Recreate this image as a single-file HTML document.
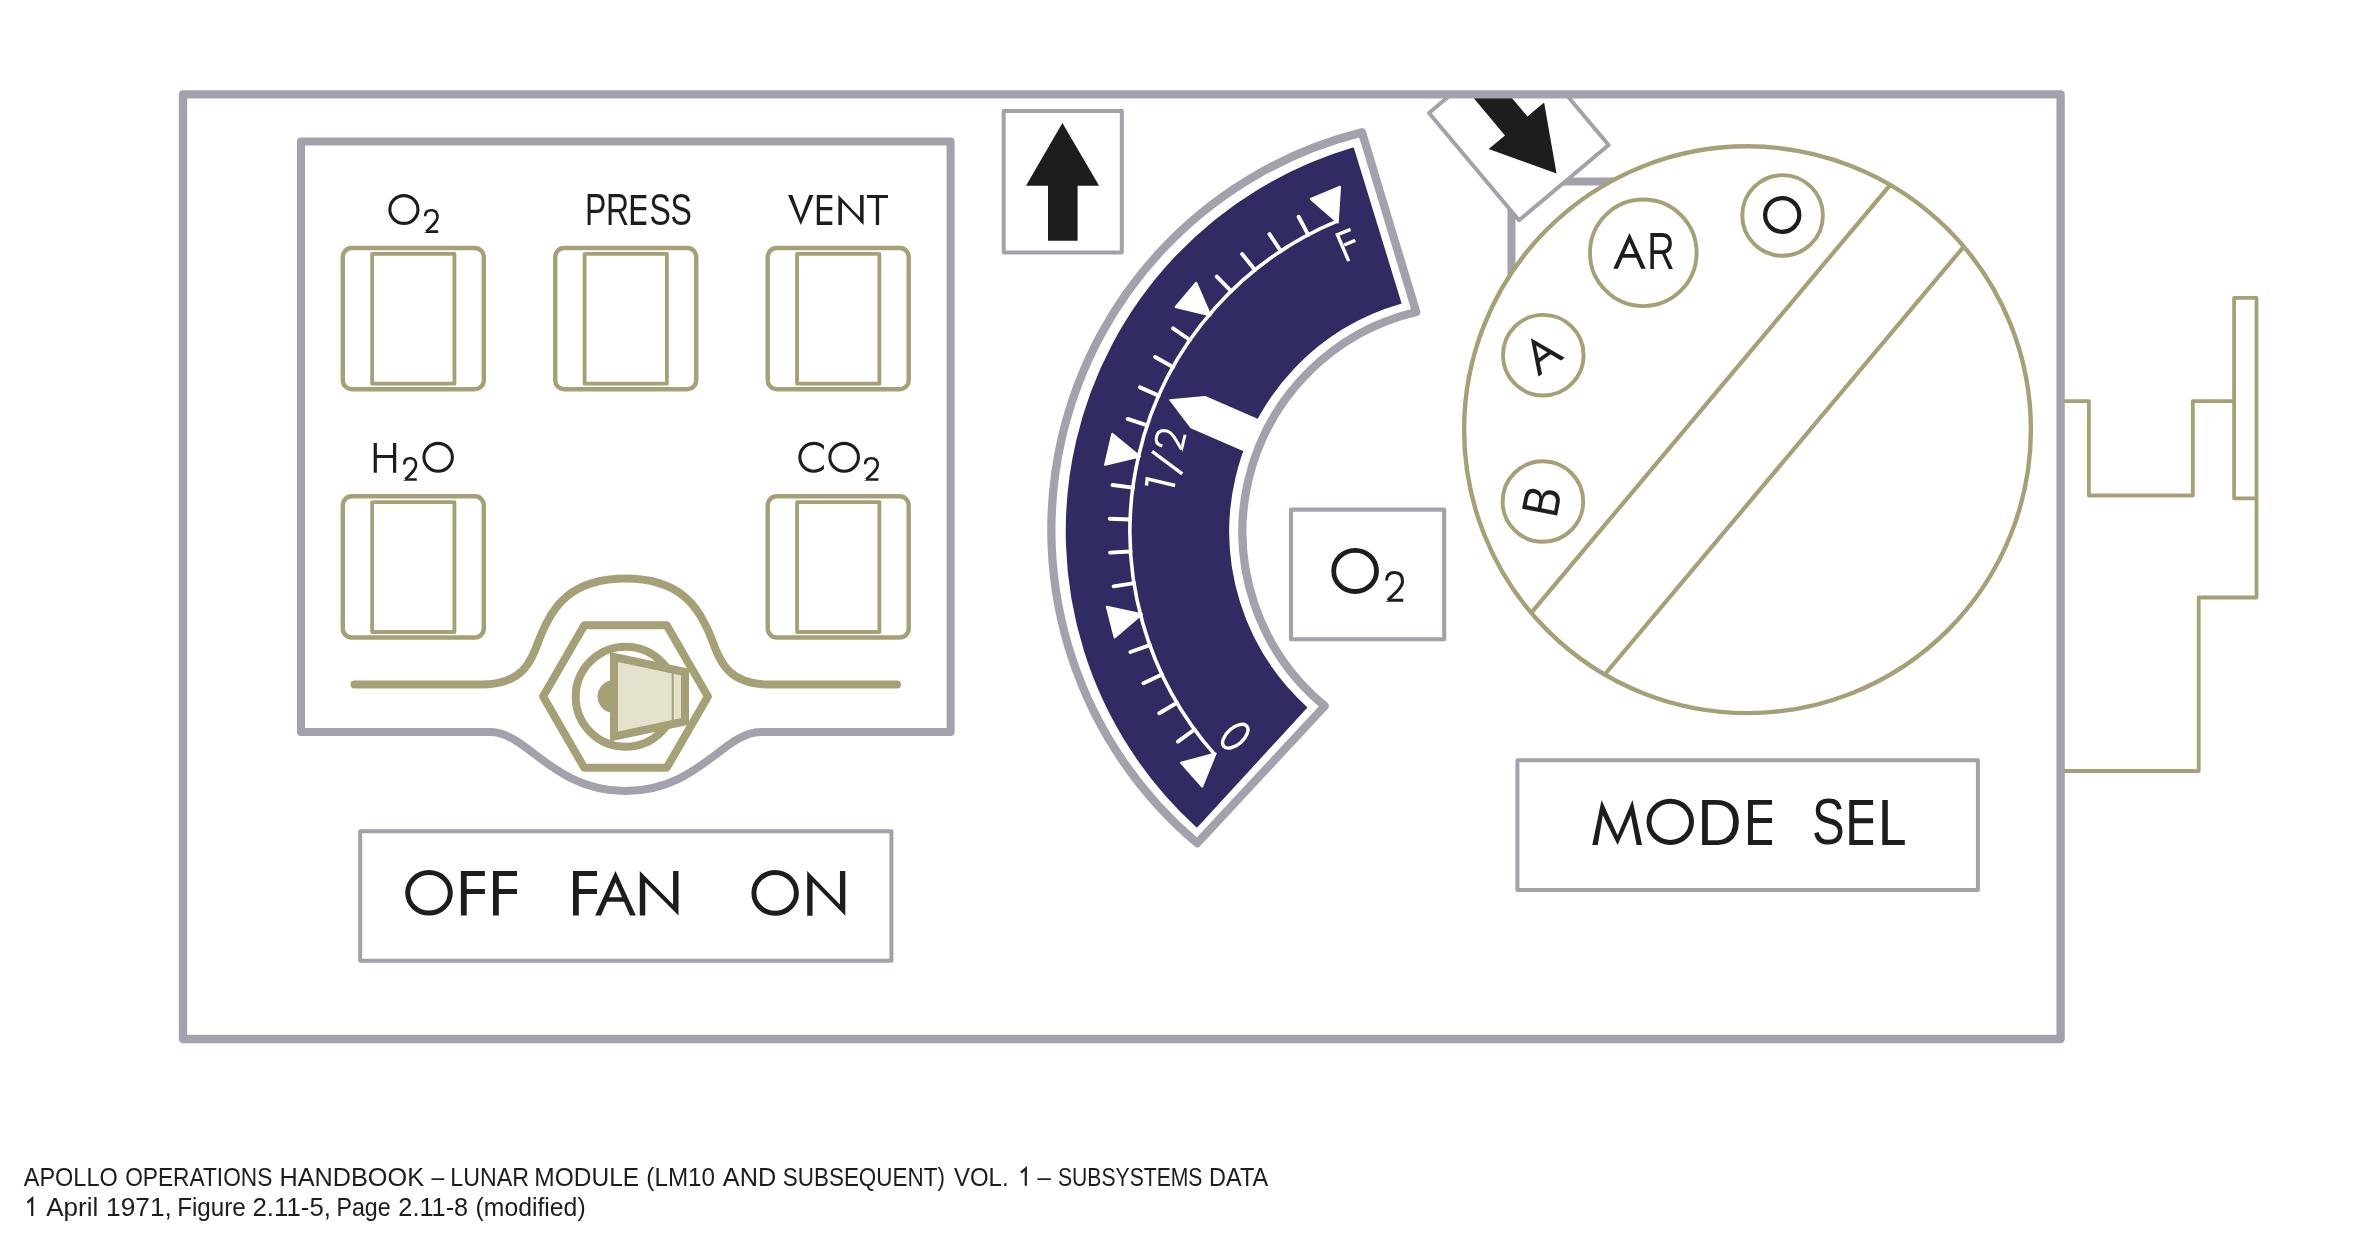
<!DOCTYPE html>
<html><head><meta charset="utf-8"><title>LM ECS panel</title>
<style>html,body{margin:0;padding:0;background:#fff;}svg{display:block;font-family:"Liberation Sans",sans-serif;will-change:transform;}</style>
</head><body>
<svg xmlns="http://www.w3.org/2000/svg" width="2362" height="1241" viewBox="0 0 2362 1241">
<rect width="2362" height="1241" fill="#fff"/>
<g fill="none" stroke="#a6a077" stroke-width="3.8" stroke-linejoin="round"><path d="M2062 401.2H2088.9V495.5H2192.8V401.2H2234.1"/><rect x="2234.1" y="297.9" width="22.4" height="200.4"/><path d="M2256.5 498.3V597.5H2198.7V771H2062"/></g>
<path d="M1511.5 320V181.5H1660" fill="none" stroke="#a3a1ab" stroke-width="8"/>
<defs><clipPath id="topclip"><rect x="1380" y="94" width="320" height="260"/></clipPath></defs>
<g clip-path="url(#topclip)"><g transform="translate(1518.8 129) rotate(140) scale(0.99) translate(-1062.75 -181.75)"><rect x="1003.7" y="111" width="118.1" height="141.5" fill="#fff" stroke="#a3a1ab" stroke-width="4" stroke-linejoin="round"/><path d="M1062.4 122.9L1099.1 185.8H1077.6V240.8H1048V185.8H1026Z" fill="#1d1d1b"/></g></g>
<rect x="183" y="94.3" width="1877.6" height="944.7" fill="none" stroke="#a3a1ab" stroke-width="8.3" stroke-linejoin="round"/>
<path d="M301 141.6H950.6V732H760.7C724 732 698.1 791 625.5 791C552.9 791 527 732 490.3 732H301Z" fill="none" stroke="#a3a1ab" stroke-width="8" stroke-linejoin="round"/>
<rect x="342.8" y="248" width="141" height="141.2" rx="9" fill="none" stroke="#a6a077" stroke-width="4.4"/>
<rect x="372.15" y="253.8" width="82.3" height="129.9" fill="none" stroke="#a6a077" stroke-width="3.8" stroke-linejoin="round"/>
<rect x="342.8" y="496.3" width="141" height="141.2" rx="9" fill="none" stroke="#a6a077" stroke-width="4.4"/>
<rect x="372.15" y="502.1" width="82.3" height="129.9" fill="none" stroke="#a6a077" stroke-width="3.8" stroke-linejoin="round"/>
<rect x="555.25" y="248" width="141" height="141.2" rx="9" fill="none" stroke="#a6a077" stroke-width="4.4"/>
<rect x="584.6" y="253.8" width="82.3" height="129.9" fill="none" stroke="#a6a077" stroke-width="3.8" stroke-linejoin="round"/>
<rect x="767.7" y="248" width="141" height="141.2" rx="9" fill="none" stroke="#a6a077" stroke-width="4.4"/>
<rect x="797.05" y="253.8" width="82.3" height="129.9" fill="none" stroke="#a6a077" stroke-width="3.8" stroke-linejoin="round"/>
<rect x="767.7" y="496.3" width="141" height="141.2" rx="9" fill="none" stroke="#a6a077" stroke-width="4.4"/>
<rect x="797.05" y="502.1" width="82.3" height="129.9" fill="none" stroke="#a6a077" stroke-width="3.8" stroke-linejoin="round"/>
<ellipse cx="403.9" cy="209.5" rx="14.05" ry="13.85" fill="none" stroke="#1d1d1b" stroke-width="3.1"/><path d="M425.1 216.34C425.1 211.78 427.7 210.2 431.3 210.2C435.2 210.2 437.5 212.02 437.5 217.06C437.5 221.38 432.8 225.22 426.14 231.6" fill="none" stroke="#1d1d1b" stroke-width="2.6"/><path d="M423.8 232.9L430.04 230.3H438.2V232.9Z" fill="#1d1d1b"/>
<text transform="matrix(0.32 0 0 0.44 584.97 224.9)" font-size="100" fill="#1d1d1b">P</text><text transform="matrix(0.32 0 0 0.44 606.08 224.9)" font-size="100" fill="#1d1d1b">R</text><path d="M630.8 194.9L634 194.9L634 224.9L630.8 224.9ZM630.8 194.9L646.3 194.9L646.3 198.2L630.8 198.2ZM630.8 207.02L646.3 207.02L646.3 210.32L630.8 210.32ZM630.8 221.6L646.3 221.6L646.3 224.9L630.8 224.9Z" fill="#1d1d1b"/><text transform="matrix(0.32 0 0 0.44 649.47 224.66)" font-size="100" fill="#1d1d1b">S</text><text transform="matrix(0.32 0 0 0.44 670.58 224.66)" font-size="100" fill="#1d1d1b">S</text>
<path d="M788.1 194.9L792.39 194.9L800.8 218L809.21 194.9L813.5 194.9L800.8 224.9Z" fill="#1d1d1b"/><path d="M816.8 194.9L820 194.9L820 224.9L816.8 224.9ZM816.8 194.9L832.3 194.9L832.3 198.2L816.8 198.2ZM816.8 207.02L832.3 207.02L832.3 210.32L816.8 210.32ZM816.8 221.6L832.3 221.6L832.3 224.9L816.8 224.9Z" fill="#1d1d1b"/><path d="M838.4 224.9L838.4 194.9L860.06 217.4L860.06 194.9L863.6 194.9L863.6 224.9L841.94 202.4L841.94 224.9Z" fill="#1d1d1b"/><path d="M866.9 194.9L888 194.9L888 197.9L866.9 197.9ZM875.8 194.9L879.1 194.9L879.1 224.9L875.8 224.9Z" fill="#1d1d1b"/>
<path d="M373.7 443L376.89 443L376.89 472.8L373.7 472.8ZM393.01 443L396.2 443L396.2 472.8L393.01 472.8ZM373.7 455.07L396.2 455.07L396.2 457.96L373.7 457.96Z" fill="#1d1d1b"/><path d="M404.2 464.38C404.2 459.86 406.64 458.3 410.1 458.3C413.84 458.3 416 460.09 416 465.09C416 469.38 411.54 473.18 405.24 479.5" fill="none" stroke="#1d1d1b" stroke-width="2.6"/><path d="M402.9 480.8L409.14 478.2H416.72V480.8Z" fill="#1d1d1b"/><ellipse cx="438.15" cy="457.3" rx="14.2" ry="13.95" fill="none" stroke="#1d1d1b" stroke-width="3.1"/>
<path d="M823.9 445.54A15.5 15.5 0 1 0 823.9 469.06L823.9 464.49A12.4 12.4 0 1 1 823.9 450.11Z" fill="#1d1d1b"/><ellipse cx="844.15" cy="457.3" rx="14.3" ry="13.95" fill="none" stroke="#1d1d1b" stroke-width="3.1"/><path d="M865.1 464.31C865.1 459.77 867.75 458.2 871.4 458.2C875.35 458.2 877.7 460.01 877.7 465.03C877.7 469.33 872.92 473.15 866.14 479.5" fill="none" stroke="#1d1d1b" stroke-width="2.6"/><path d="M863.8 480.8L870.04 478.2H878.39V480.8Z" fill="#1d1d1b"/>
<path d="M354.5 684.6H480.5C533 684.6 532.3 650 545.3 625.5C550.9 614.9 565.1 578.6 625.5 578.6C685.9 578.6 700.1 614.9 705.7 625.5C718.7 650 718 684.6 770.5 684.6H897" fill="none" stroke="#a6a077" stroke-width="8" stroke-linecap="round"/>
<path d="M707.9 696.5L666.7 767.86L584.3 767.86L543.1 696.5L584.3 625.14L666.7 625.14Z" fill="none" stroke="#a6a077" stroke-width="8" stroke-linejoin="round"/>
<circle cx="625.7" cy="696.7" r="50" fill="none" stroke="#a6a077" stroke-width="8"/>
<path d="M614 680A16.5 16.5 0 0 0 614 713Z" fill="#a6a077"/>
<path d="M614 657L685 672V721.5L614 736.5Z" fill="#e4e1cc" stroke="#a6a077" stroke-width="8" stroke-linejoin="miter"/>
<path d="M672.7 670V724" stroke="#a6a077" stroke-width="2"/>
<rect x="360.2" y="831.3" width="531.2" height="129.5" fill="none" stroke="#a3a1ab" stroke-width="4" stroke-linejoin="round"/>
<ellipse cx="429" cy="892.8" rx="21.3" ry="20.3" fill="none" stroke="#1d1d1b" stroke-width="5"/><path d="M460.9 871L466.7 871L466.7 915.6L460.9 915.6ZM460.9 871L484.9 871L484.9 876L460.9 876ZM460.9 889.02L484.9 889.02L484.9 894.01L460.9 894.01Z" fill="#1d1d1b"/><path d="M493 871L498.8 871L498.8 915.6L493 915.6ZM493 871L517 871L517 876L493 876ZM493 889.02L517 889.02L517 894.01L493 894.01Z" fill="#1d1d1b"/>
<path d="M573 871L578.8 871L578.8 915.6L573 915.6ZM573 871L597 871L597 876L573 876ZM573 889.02L597 889.02L597 894.01L573 894.01Z" fill="#1d1d1b"/><path d="M615.5 871L635.8 915.6L630 915.6L615.5 882.15L601 915.6L595.2 915.6ZM603.52 897.31L627.48 897.31L629.51 901.77L601.49 901.77Z" fill="#1d1d1b"/><path d="M639.8 915.6L639.8 871L673.06 904.45L673.06 871L678.5 871L678.5 915.6L645.24 882.15L645.24 915.6Z" fill="#1d1d1b"/>
<ellipse cx="775.15" cy="892.9" rx="21.25" ry="20.4" fill="none" stroke="#1d1d1b" stroke-width="5"/><path d="M807.2 915.8L807.2 871L839.95 904.6L839.95 871L845.3 871L845.3 915.8L812.55 882.2L812.55 915.8Z" fill="#1d1d1b"/>
<rect x="1003.7" y="111" width="118.1" height="141.5" fill="none" stroke="#a3a1ab" stroke-width="4" stroke-linejoin="round"/>
<path d="M1062.4 122.9L1099.1 185.8H1077.6V240.8H1048V185.8H1026Z" fill="#1d1d1b"/>
<path d="M1353.2 148.25A399.5 399.5 0 0 0 1196.87 826.75L1306.47 707.44A237.5 237.5 0 0 1 1400.74 303.14Z" fill="#312b63" stroke="#312b63" stroke-width="1.5" stroke-linejoin="round"/>
<path d="M1337.15 221.19A336.0 336.0 0 0 0 1214.55 754.36" fill="none" stroke="#fff" stroke-width="3.6"/>
<path d="M1308.26 234.83L1298.63 216.73M1280.79 251.15L1269.49 234.05M1255 270.01L1242.13 254.06M1231.12 291.23L1216.79 276.57M1189.93 339.98L1173.08 328.3M1172.98 367.07L1155.11 357.04M1158.69 395.64L1139.94 387.35M1147.18 425.44L1127.73 418.97M1132.87 487.64L1112.55 484.97M1130.22 519.48L1109.73 518.75M1130.59 551.43L1110.13 552.64M1134 583.19L1113.74 586.35M1149.76 645.04L1130.47 651.97M1161.98 674.56L1143.43 683.29M1176.94 702.79L1159.3 713.24M1194.52 729.47L1177.95 741.55" stroke="#fff" stroke-width="3.9" stroke-linecap="round"/>
<path d="M1337.72 222.57L1340.06 186.79L1310.72 198.97ZM1210.51 315.59L1196.2 282.71L1175.7 306.97ZM1140.01 456.54L1112.23 433.86L1105.11 464.81ZM1141.86 614.12L1106.78 606.68L1114.63 637.45ZM1215.67 753.36L1181.07 762.81L1202.14 786.58Z" fill="#fff" stroke="#fff" stroke-width="2" stroke-linejoin="round"/>
<path d="M1169.9 399.9L1205.1 396.7L1261.8 421.5L1247.9 452.3L1191 427.5Z" fill="#fff" stroke="#fff" stroke-width="1.5" stroke-linejoin="round"/>
<path d="M1350.6 229.4L1337.4 234.6L1348.7 261.1M1344.2 245L1355.3 240.4M1146.5 485.5L1147.2 478.9L1175.1 485.5M1152.1 451.3L1182.3 473.9" fill="none" stroke="#fff" stroke-width="3.4" stroke-linejoin="miter" stroke-miterlimit="10"/>
<g transform="translate(1169.8 439.8) rotate(-76.2)"><path d="M-7.8 -5.78C-7.8 -11.55 -4.46 -13.7 0 -13.7C4.84 -13.7 7.8 -11.25 7.8 -4.86C7.8 0.61 1.86 5.47 -6.6 13.7" fill="none" stroke="#fff" stroke-width="3"/><path d="M-9.3 15.2L-2.1 12.2H8.56V15.2Z" fill="#fff"/></g>
<ellipse cx="1235.3" cy="736.2" rx="15.3" ry="8.3" transform="rotate(-41.6 1235.3 736.2)" fill="none" stroke="#fff" stroke-width="3.4"/>
<path d="M1362 132.4A409.5 409.5 0 0 0 1197.2 843.1L1324.8 706A225.7 225.7 0 0 1 1416.2 312Z" fill="none" stroke="#a3a1ab" stroke-width="8.3" stroke-linejoin="round"/>
<rect x="1291" y="509.6" width="153.2" height="129.7" fill="none" stroke="#a3a1ab" stroke-width="4.1" stroke-linejoin="round"/>
<ellipse cx="1355.1" cy="570.9" rx="21.4" ry="20.6" fill="none" stroke="#1d1d1b" stroke-width="4.8"/><path d="M1386.6 580.53C1386.6 574.69 1390.01 572.5 1394.55 572.5C1399.46 572.5 1402.5 575 1402.5 581.46C1402.5 586.99 1396.44 591.91 1387.8 600.25" fill="none" stroke="#1d1d1b" stroke-width="3"/><path d="M1385.1 601.75L1392.3 598.75H1403.24V601.75Z" fill="#1d1d1b"/>
<circle cx="1747.5" cy="429.7" r="283.4" fill="#fff" stroke="#a6a077" stroke-width="4.4"/>
<path d="M1531.2 612.81L1890.26 184.89M1604.74 674.51L1963.8 246.59" stroke="#a6a077" stroke-width="4.2"/>
<circle cx="1782.6" cy="215.45" r="40.3" fill="none" stroke="#a6a077" stroke-width="3.9"/>
<circle cx="1643.3" cy="252.8" r="53.3" fill="none" stroke="#a6a077" stroke-width="3.9"/>
<circle cx="1543.3" cy="355.2" r="40.3" fill="none" stroke="#a6a077" stroke-width="3.9"/>
<circle cx="1542.9" cy="501.5" r="40.3" fill="none" stroke="#a6a077" stroke-width="3.9"/>
<path d="M1629.5 233.1L1645.7 268.7L1641.07 268.7L1629.5 242L1617.93 268.7L1613.3 268.7ZM1619.94 254.1L1639.06 254.1L1640.68 257.66L1618.32 257.66Z" fill="#1d1d1b"/><text transform="matrix(0.38 0 0 0.52 1647.35 268.7)" font-size="100" fill="#1d1d1b">R</text>
<ellipse cx="1782.2" cy="215" rx="17.08" ry="16.78" fill="none" stroke="#1d1d1b" stroke-width="4.25"/>
<g transform="translate(1541.2 352.7) rotate(-35.5)"><path d="M0 -17.8L16.2 17.8L11.57 17.8L0 -8.9L-11.57 17.8L-16.2 17.8ZM-9.56 3.2L9.56 3.2L11.18 6.76L-11.18 6.76Z" fill="#1d1d1b"/></g>
<g transform="translate(1541.9 500.5) rotate(-79)"><text transform="matrix(0.44 0 0 0.52 -15.39 17.75)" font-size="100" fill="#1d1d1b">B</text></g>
<rect x="1517.4" y="760.3" width="460.5" height="129.8" fill="none" stroke="#a3a1ab" stroke-width="4" stroke-linejoin="round"/>
<path d="M1592.3 844.9L1601.55 799.9L1617.63 835.45L1632.52 799.9L1642 844.9L1636.64 844.9L1630.87 815.29L1617.63 844.9L1602.79 815.29L1597.8 844.9Z" fill="#1d1d1b"/><ellipse cx="1670.25" cy="821.8" rx="21.25" ry="20.6" fill="none" stroke="#1d1d1b" stroke-width="5"/><text transform="matrix(0.62 0 0 0.65 1697.08 844.9)" font-size="100" fill="#1d1d1b">D</text><path d="M1748 799.9L1752.95 799.9L1752.95 844.9L1748 844.9ZM1748 799.9L1772 799.9L1772 804.85L1748 804.85ZM1748 818.08L1772 818.08L1772 823.03L1748 823.03ZM1748 839.95L1772 839.95L1772 844.9L1748 844.9Z" fill="#1d1d1b"/>
<text transform="matrix(0.49 0 0 0.65 1811.99 844.35)" font-size="100" fill="#1d1d1b">S</text><path d="M1849.3 800L1854.21 800L1854.21 845L1849.3 845ZM1849.3 800L1873.1 800L1873.1 804.95L1849.3 804.95ZM1849.3 818.18L1873.1 818.18L1873.1 823.13L1849.3 823.13ZM1849.3 840.05L1873.1 840.05L1873.1 845L1849.3 845Z" fill="#1d1d1b"/><path d="M1882.3 800L1887.79 800L1887.79 845L1882.3 845ZM1882.3 840.05L1904.8 840.05L1904.8 845L1882.3 845Z" fill="#1d1d1b"/>
<g fill="#1d1d1b"><text transform="matrix(0.91 0 0 1 23.78 1185.8)" font-size="25.8">APOLLO</text><text transform="matrix(0.88 0 0 1 125.17 1185.8)" font-size="25.8">OPERATIONS</text><text transform="matrix(0.98 0 0 1 279.38 1185.8)" font-size="25.8">HANDBOOK</text><text transform="matrix(0.89 0 0 1 431.4 1185.8)" font-size="25.8">–</text><text transform="matrix(0.9 0 0 1 450.33 1185.8)" font-size="25.8">LUNAR</text><text transform="matrix(0.95 0 0 1 534.34 1185.8)" font-size="25.8">MODULE</text><text transform="matrix(0.94 0 0 1 646.35 1185.8)" font-size="25.8">(LM10</text><text transform="matrix(0.98 0 0 1 722.87 1185.8)" font-size="25.8">AND</text><text transform="matrix(0.87 0 0 1 782.79 1185.8)" font-size="25.8">SUBSEQUENT)</text><text transform="matrix(0.93 0 0 1 953.88 1185.8)" font-size="25.8">VOL.</text><path d="M1025.8 1185.8V1168.4L1021 1172.6" fill="none" stroke="#1d1d1b" stroke-width="2.2"/><text transform="matrix(0.93 0 0 1 1037.6 1185.8)" font-size="25.8">–</text><text transform="matrix(0.82 0 0 1 1057.95 1185.8)" font-size="25.8">SUBSYSTEMS</text><text transform="matrix(0.91 0 0 1 1209.12 1185.8)" font-size="25.8">DATA</text><path d="M32.2 1215.9V1198.5L27.4 1202.7" fill="none" stroke="#1d1d1b" stroke-width="2.2"/><text transform="matrix(1.01 0 0 1 46.17 1215.9)" font-size="25.8">April</text><text transform="matrix(1.02 0 0 1 106.03 1215.9)" font-size="25.8">1971,</text><text transform="matrix(0.94 0 0 1 177.16 1215.9)" font-size="25.8">Figure</text><text transform="matrix(1 0 0 1 252.51 1215.9)" font-size="25.8">2.11-5,</text><text transform="matrix(0.9 0 0 1 336.44 1215.9)" font-size="25.8">Page</text><text transform="matrix(0.98 0 0 1 398.33 1215.9)" font-size="25.8">2.11-8</text><text transform="matrix(0.96 0 0 1 475.61 1215.9)" font-size="25.8">(modified)</text></g>
</svg>
</body></html>
